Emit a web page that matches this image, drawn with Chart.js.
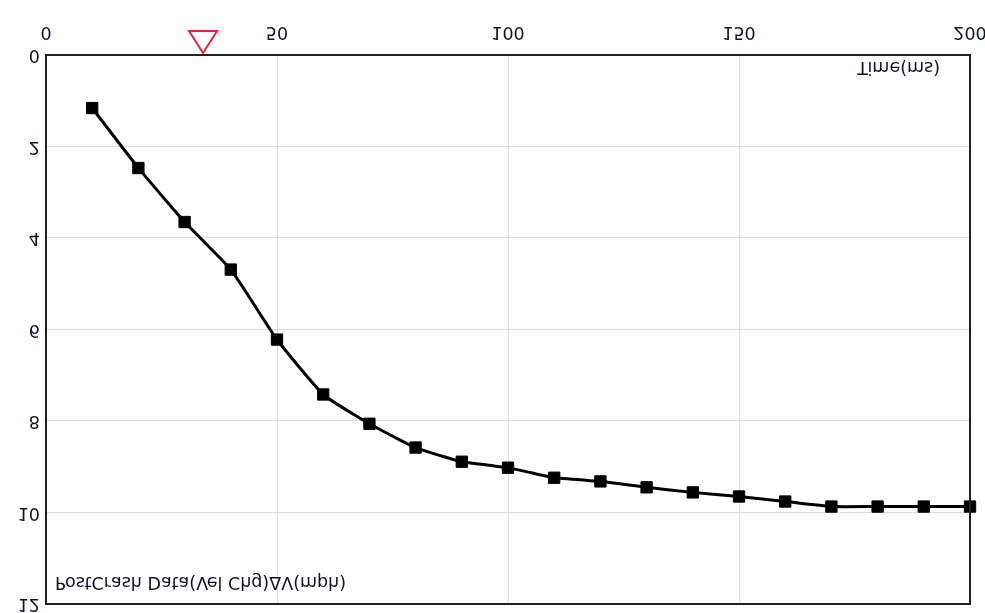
<!DOCTYPE html>
<html>
<head>
<meta charset="utf-8">
<script src="https://cdn.jsdelivr.net/npm/chart.js@4/dist/chart.umd.min.js"></script>
<style>
  html, body { margin: 0; padding: 0; background: #fff; }
  #wrap { width: 985px; height: 613px; }
  /* the reference is a vertically mirrored picture of the chart */
  #c { display: block; transform: scaleY(-1); }
</style>
</head>
<body>
<div id="wrap"><canvas id="c" width="985" height="613"></canvas></div>
<script>
// Time (ms)
const timeMs = [10, 20, 30, 40, 50, 60, 70, 80, 90, 100, 110, 120, 130, 140, 150, 160, 170, 180, 190, 200];
// Velocity change ΔV (mph)
const deltaV = [1.16, 2.47, 3.65, 4.69, 6.22, 7.42, 8.06, 8.58, 8.89, 9.02, 9.24, 9.32, 9.45, 9.56, 9.65, 9.76, 9.87, 9.87, 9.87, 9.87];
const xTicks = [0, 50, 100, 150, 200];
const yTicks = [0, 2, 4, 6, 8, 10, 12];
const markerTime = [34];
const yTitle = 'PostCrash Data(Vel Chg)ΔV(mph)';
const xTitle = 'Time(ms)';

const FONT = '"DejaVu Sans", Verdana, sans-serif';
const TXT = '#10102a';
const FS = 17.5;

const overlay = {
  id: 'overlay',
  afterDraw(chart) {
    const { ctx, chartArea: a, scales } = chart;
    ctx.save();
    // plot frame
    ctx.strokeStyle = '#222';
    ctx.lineWidth = 2;
    ctx.strokeRect(a.left, a.top, a.right - a.left, a.bottom - a.top);
    // in-plot titles
    ctx.fillStyle = TXT;
    ctx.font = FS + 'px ' + FONT;
    ctx.textBaseline = 'middle';
    ctx.textAlign = 'left';
    ctx.fillText(yTitle, a.left + 9, a.top + 22);
    ctx.textAlign = 'right';
    ctx.fillText(xTitle, a.right - 30, a.bottom - 12);
    // red marker triangle below x axis
    markerTime.forEach(t => {
      const px = scales.x.getPixelForValue(t);
      ctx.beginPath();
      ctx.moveTo(px, a.bottom + 2);
      ctx.lineTo(px - 14, a.bottom + 24);
      ctx.lineTo(px + 14, a.bottom + 24);
      ctx.closePath();
      ctx.fillStyle = '#fff';
      ctx.fill();
      ctx.strokeStyle = '#e8203a';
      ctx.lineWidth = 2;
      ctx.stroke();
    });
    ctx.restore();
  }
};

new Chart(document.getElementById('c'), {
  type: 'line',
  data: {
    datasets: [{
      data: timeMs.map((t, i) => ({ x: t, y: deltaV[i] })),
      borderColor: '#000',
      backgroundColor: '#000',
      borderWidth: 3,
      tension: 0.15,
      pointStyle: 'rect',
      pointRadius: 8,
      pointBorderWidth: 1,
      pointBackgroundColor: '#000',
      pointBorderColor: '#000',
      clip: false
    }]
  },
  options: {
    responsive: false,
    animation: false,
    devicePixelRatio: 1,
    layout: { padding: { top: 8, right: 15, left: 0, bottom: 0 } },
    plugins: { legend: { display: false }, tooltip: { enabled: false } },
    scales: {
      x: {
        type: 'linear',
        min: 0, max: 200,
        afterBuildTicks: s => { s.ticks = xTicks.map(v => ({ value: v })); },
        afterFit: s => { s.height = 55; s.paddingRight = 0; s.paddingLeft = 0; },
        grid: { color: '#dcdcdc', lineWidth: 1, drawTicks: false },
        border: { display: false },
        ticks: { color: TXT, font: { family: FONT, size: FS }, padding: 13, maxRotation: 0 }
      },
      y: {
        type: 'linear',
        min: 0, max: 12,
        afterBuildTicks: s => { s.ticks = yTicks.map(v => ({ value: v })); },
        afterFit: s => { s.width = 46; s.paddingTop = 0; s.paddingBottom = 0; },
        grid: { color: '#dcdcdc', lineWidth: 1, drawTicks: false },
        border: { display: false },
        ticks: { color: TXT, font: { family: FONT, size: FS }, padding: 6 }
      }
    }
  },
  plugins: [overlay]
});
</script>
</body>
</html>
